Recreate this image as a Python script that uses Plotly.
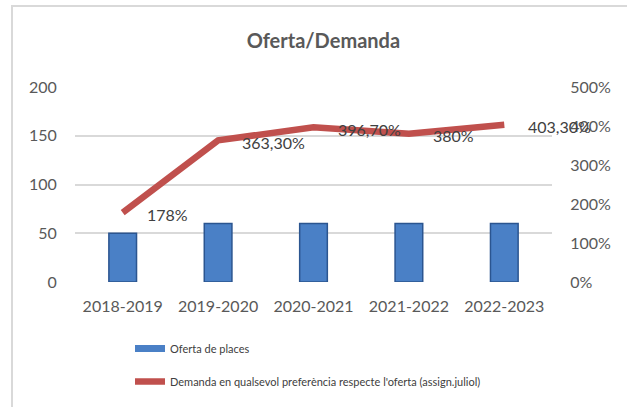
import plotly.graph_objects as go

categories = ["2018-2019", "2019-2020", "2020-2021", "2021-2022", "2022-2023"]
oferta = [50, 60, 60, 60, 60]
demanda_pct = [178, 363.3, 396.7, 380, 403.3]
demanda_labels = ["178%", "363,30%", "396,70%", "380%", "403,30%"]
left_ticks = [0, 50, 100, 150, 200]
right_ticks = [0, 100, 200, 300, 400, 500]
right_tick_labels = [f"{v}%" for v in right_ticks]

FONT = "Lato"
GRAY = "#595959"
BLUE = "#4a80c6"
RED = "#c0504d"

fig = go.Figure()
fig.add_trace(go.Bar(
    x=categories, y=oferta, name="Oferta de places",
    marker=dict(color=BLUE, line=dict(color="#2b5590", width=1.5)),
    width=0.29, showlegend=False,
))
# legend-only entry mimicking the flat bar swatch
fig.add_trace(go.Scatter(
    x=[None], y=[None], mode="lines", name="Oferta de places",
    line=dict(color=BLUE, width=7), legendgroup="a",
))
fig.add_trace(go.Scatter(
    x=categories, y=demanda_pct, yaxis="y2", mode="lines",
    name="Demanda en qualsevol preferència respecte l'oferta (assign.juliol)",
    line=dict(color=RED, width=6.5), legendgroup="b",
))

for c, v, t in zip(categories, demanda_pct, demanda_labels):
    fig.add_annotation(x=c, y=v, xref="x", yref="y2", text=t, showarrow=False,
                       xanchor="left", yanchor="middle", xshift=22, yshift=-2,
                       font=dict(family=FONT, size=16, color="#404040"))

W, H = 627, 407
L, R, T, B = 75, 75, 87, 125
pw, ph = W - L - R, H - T - B
def px(x):
    return (x - L) / pw
def py(y):
    return (H - B - y) / ph

fig.add_shape(type="rect", xref="paper", yref="paper",
              x0=px(12), x1=px(640), y0=py(6), y1=py(420),
              line=dict(color="#d9d9d9", width=2), fillcolor="rgba(0,0,0,0)", layer="below")

fig.update_layout(
    width=W, height=H,
    margin=dict(l=L, r=R, t=T, b=B, autoexpand=False),
    paper_bgcolor="white", plot_bgcolor="white",
    title=dict(text="<b>Oferta/Demanda</b>", x=px(321), xanchor="center",
               y=1 - 41 / H, yanchor="middle",
               font=dict(family=FONT, size=20, color=GRAY)),
    font=dict(family=FONT, size=16, color=GRAY),
    showlegend=True,
    legend=dict(orientation="v", x=px(130), xanchor="left", y=py(334), yanchor="top",
                font=dict(family=FONT, size=11, color="#404040"),
                tracegroupgap=14, traceorder="grouped", bgcolor="rgba(0,0,0,0)"),
    xaxis=dict(type="category", range=[-0.5, 4.5], showgrid=False, showline=False,
               ticks="outside", ticklen=10, tickcolor="rgba(0,0,0,0)",
               tickfont=dict(family=FONT, size=16, color=GRAY)),
    yaxis=dict(range=[0, 200], tickvals=left_ticks, showgrid=True, gridcolor="#d9d9d9",
               gridwidth=1.5, zeroline=False, showline=False,
               ticks="outside", ticklen=14, tickcolor="rgba(0,0,0,0)",
               tickfont=dict(family=FONT, size=16, color=GRAY)),
    yaxis2=dict(range=[0, 500], tickvals=right_ticks, ticktext=right_tick_labels,
                overlaying="y", side="right", showgrid=False, zeroline=False, showline=False,
                ticks="outside", ticklen=14, tickcolor="rgba(0,0,0,0)",
                tickfont=dict(family=FONT, size=16, color=GRAY)),
)

fig.write_html("out.html", config={"displayModeBar": False},
               post_script="document.body.style.margin='0px';")
